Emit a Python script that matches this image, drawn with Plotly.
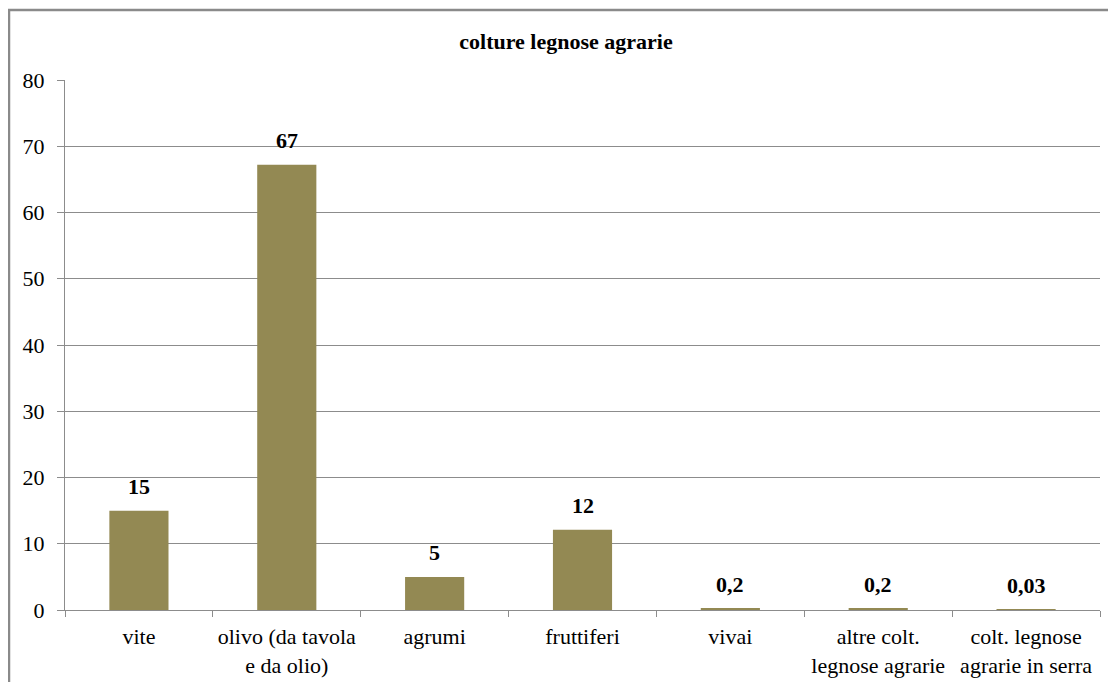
import plotly.graph_objects as go

categories = ["vite", "olivo (da tavola<br>e da olio)", "agrumi", "fruttiferi", "vivai",
              "altre colt.<br>legnose agrarie", "colt. legnose<br>agrarie in serra"]
values = [15.0, 67.2, 5.0, 12.1, 0.2, 0.2, 0.03]
labels = ["15", "67", "5", "12", "0,2", "0,2", "0,03"]
y_ticks = [0, 10, 20, 30, 40, 50, 60, 70, 80]

FONT = "Times New Roman, Liberation Serif, serif"
GRID = "#8c8c8c"

fig = go.Figure(go.Bar(
    x=categories, y=values,
    marker=dict(color="#938953", line=dict(width=0)),
    hoverinfo="x+y",
))

for cat, val, lab in zip(categories, values, labels):
    fig.add_annotation(x=cat, y=val, xref="x", yref="y", text="<b>" + lab + "</b>",
                       showarrow=False, yanchor="bottom", yshift=10,
                       font=dict(family=FONT, size=22, color="black"))

fig.update_layout(
    width=1116, height=682,
    margin=dict(l=57, r=24, t=72, b=80),
    paper_bgcolor="white", plot_bgcolor="white",
    bargap=0.6,
    showlegend=False,
    font=dict(family=FONT, size=22, color="black"),
    title=dict(text="<b>colture legnose agrarie</b>", x=0.5, xanchor="center",
               y=1 - 33 / 682, yanchor="middle",
               font=dict(family=FONT, size=22, color="black")),
    xaxis=dict(type="category", showline=True, linecolor=GRID, linewidth=1,
               ticks="outside", tickson="boundaries", ticklen=6, tickcolor=GRID,
               showgrid=False, ticklabelstandoff=7,
               tickfont=dict(family=FONT, size=22, color="black")),
    yaxis=dict(range=[0, 80], tickvals=y_ticks, showline=True, linecolor=GRID, linewidth=1,
               ticks="outside", ticklen=7, tickcolor=GRID, showgrid=True, gridcolor=GRID,
               gridwidth=1, zeroline=False, ticklabelstandoff=8,
               tickfont=dict(family=FONT, size=22, color="black")),
    shapes=[dict(type="rect", xref="paper", yref="paper",
                 x0=-56 / 1035, x1=1.05, y0=-0.3, y1=1 + 70 / 530,
                 line=dict(color="#8a8a8a", width=2.5), fillcolor="rgba(0,0,0,0)", layer="above")],
)

fig.write_html("out.html")
